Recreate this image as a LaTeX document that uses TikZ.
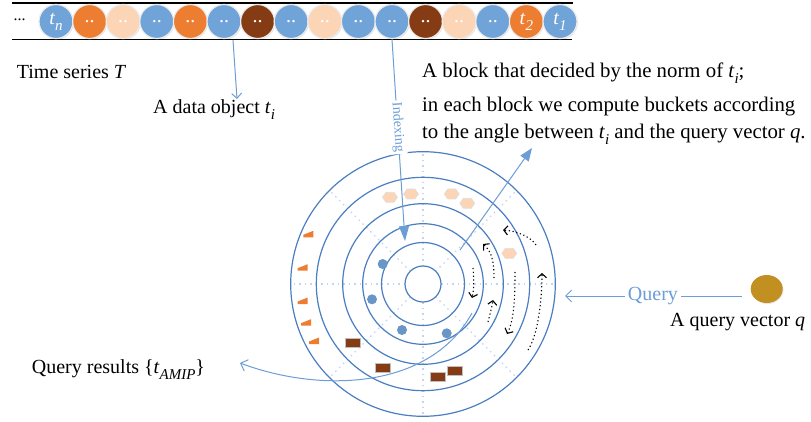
\documentclass[tikz,border=0pt]{standalone}
\usepackage{fontspec}
\setmainfont{Liberation Serif}
\usetikzlibrary{arrows.meta,shadows,calc,shapes.geometric}
\definecolor{tsblue}{RGB}{112,163,216}
\definecolor{tsorange}{RGB}{237,125,49}
\definecolor{tspeach}{RGB}{251,213,181}
\definecolor{tsbrown}{RGB}{133,60,20}
\definecolor{ringblue}{RGB}{74,126,193}
\definecolor{arrblue}{RGB}{108,157,214}
\definecolor{spokecol}{RGB}{195,213,238}
\definecolor{qgold}{RGB}{193,144,32}
\newcommand{\lowsub}[1]{\raisebox{-6pt}{\fontsize{15}{15}\selectfont\itshape #1}}
\tikzset{
  txt/.style={font=\fontsize{20}{24}\selectfont, inner sep=0pt, anchor=base west},
  bigtxt/.style={font=\fontsize{20.8}{24}\selectfont, inner sep=0pt, anchor=base west},
  tsdot/.style={circle, minimum size=34pt, inner sep=0pt, draw=white!85!gray, line width=1.2pt,
    text=white, font=\fontsize{20}{20}\selectfont,
    drop shadow={opacity=0.2, shadow xshift=0.8pt, shadow yshift=-1pt}},
  ring/.style={circle, draw=ringblue, line width=1.2pt, inner sep=0pt},
  spokeline/.style={spokecol, line width=1.2pt, dash pattern=on 1.5pt off 4pt},
  blueconn/.style={arrblue, line width=1pt},
  barb/.style={-{Straight Barb[length=6pt,width=12pt]}},
  tri/.style={-{Triangle[length=15pt,width=10pt]}},
  darr/.style={black, line width=1.1pt, dash pattern=on 1.2pt off 2.6pt, -{Straight Barb[length=4pt,width=9pt]}},
  orwedge/.pic={\fill[tsorange] (-5,3) -- (5,3) -- (5,-3.5) -- (-5,0.5) -- cycle;},
  brtag/.pic={\filldraw[fill=tsbrown, draw=gray!50, line width=0.6pt] (-7.5,-4.5) rectangle (7.5,4.5);},
  pchex/.pic={\filldraw[fill=tspeach, draw=gray!25, line width=0.6pt] (-7.5,0) -- (-4,-5) -- (4,-5) -- (7.5,0) -- (4,5) -- (-4,5) -- cycle;},
  bdot/.pic={\fill[tsblue!92!black] (0,0) circle (5);}
}
\begin{document}
\begin{tikzpicture}[x=1pt,y=-1pt]
\useasboundingbox (0,0) rectangle (811,422);

% time series bar
\coordinate (barTL) at (12,3);
\coordinate (barTR) at (573,3);
\coordinate (barBL) at (12,39.5);
\coordinate (barBR) at (572,39.5);
\draw[line width=1.2pt] (barTL) -- (barTR);
\draw[line width=1.2pt] (barBL) -- (barBR);
\node[font=\fontsize{16}{16}\selectfont, inner sep=0pt] (dots) at (19.5,20) {...};
\foreach \c/\l [count=\k from 0] in {
  tsblue/{\textit{t}\lowsub{n}}, tsorange/{..}, tspeach/{..}, tsblue/{..}, tsorange/{..},
  tsblue/{..}, tsbrown/{..}, tsblue/{..}, tspeach/{..}, tsblue/{..}, tsblue/{..},
  tsbrown/{..}, tspeach/{..}, tsblue/{..}, tsorange/{\textit{t}\lowsub{2}}, tsblue/{\textit{t}\lowsub{1}}}
  \node[tsdot, fill=\c] (c\k) at ({56+33.6*\k},21.5) {\l};

% labels
\node[txt] (tsl) at (16.7,78.3) {Time series \textit{T}};
\node[txt] (dol) at (153,113.3) {A data object \textit{t}\lowsub{i}};
\node[bigtxt] (bl1) at (422,78) {A block that decided by the norm of \textit{t}\lowsub{i};};
\node[bigtxt] (bl2) at (422,111.7) {in each block we compute buckets according};
\node[bigtxt] (bl3) at (422,138.3) {to the angle between \textit{t}\lowsub{i} and the query vector \textit{q}.};
\node[txt] (qrl) at (31.7,373.3) {Query results \{\textit{t}\lowsub{AMIP}\}};
\node[txt] (qvl) at (670,326.7) {A query vector \textit{q}};

% rings
\coordinate (cen) at (423,284);
\foreach \a in {0,45,...,315}
  \draw[spokeline] ($(cen)+(\a:18)$) -- ($(cen)+(\a:132)$);
\foreach \r/\n in {18/r1, 41.5/r2, 60.3/r3, 80.3/r4, 106.7/r5, 132.3/r6}
  \node[ring, minimum size={2*\r}] (\n) at (cen) {};

% items in rings
\foreach \x/\y in {390/197.3, 411/194, 451.7/194, 467.3/203.3, 509.3/253.3}
  \pic at (\x,\y) {pchex};
\foreach \x/\y in {382.7/264, 372/299.3, 402/330, 446.7/333.3}
  \pic at (\x,\y) {bdot};
\foreach \x/\y in {308.3/234.3, 302.7/267.7, 302.7/301, 306/322.7, 314/341}
  \pic at (\x,\y) {orwedge};
\foreach \x/\y in {352.7/342.7, 382.7/367.7, 437.3/377, 455/370.7}
  \pic at (\x,\y) {brtag};

% dotted rotation arrows
\draw[darr] (536,245) .. controls (530,236) and (516,231) .. (503,230);
\draw[darr] (494,278) .. controls (494,262) and (492,252) .. (483,244);
\draw[darr] (473,268) .. controls (474,280) and (474,290) .. (472,298);
\draw[darr] (488,322) .. controls (490,314) and (492,307) .. (493,300);
\draw[darr] (515,272) .. controls (515,300) and (514,320) .. (507,334);
\draw[darr] (528,350) .. controls (538,335) and (542,300) .. (542,273);

% query object
\node[ellipse, fill=qgold, minimum width=32pt, minimum height=28pt, inner sep=0pt,
  drop shadow={opacity=0.2, shadow xshift=0.8pt, shadow yshift=-1pt}] (q) at (766.7,289) {};

% connectors
\coordinate (dos) at (233,40);
\coordinate (doe) at (237,99);
\draw[blueconn, -{Straight Barb[length=5pt,width=10pt]}] (dos) -- (doe);

\coordinate (idxs) at (392,39.5);
\coordinate (idxe) at (405,241);
\draw[blueconn, tri] (idxs) -- node[sloped, pos=0.436, fill=white, text=arrblue, inner sep=2pt,
  font=\fontsize{14}{14}\selectfont] (idxl) {Indexing} (idxe);

\coordinate (blks) at (460,250);
\coordinate (blke) at (532,148);
\draw[blueconn, -{Triangle[length=13pt,width=10pt]}] (blks) -- (blke);

\coordinate (qs) at (742,296);
\coordinate (qe) at (565,296);
\draw[blueconn, barb] (qs) -- node[pos=0.503, fill=white, text=arrblue, inner sep=3pt,
  font=\fontsize{20}{24}\selectfont] (ql) {Query} (qe);

\coordinate (qrs) at (472,313);
\coordinate (qre) at (240,363);
\draw[blueconn, barb] (qrs) .. controls (430,390) and (320,393) .. (qre);
\end{tikzpicture}
\end{document}
